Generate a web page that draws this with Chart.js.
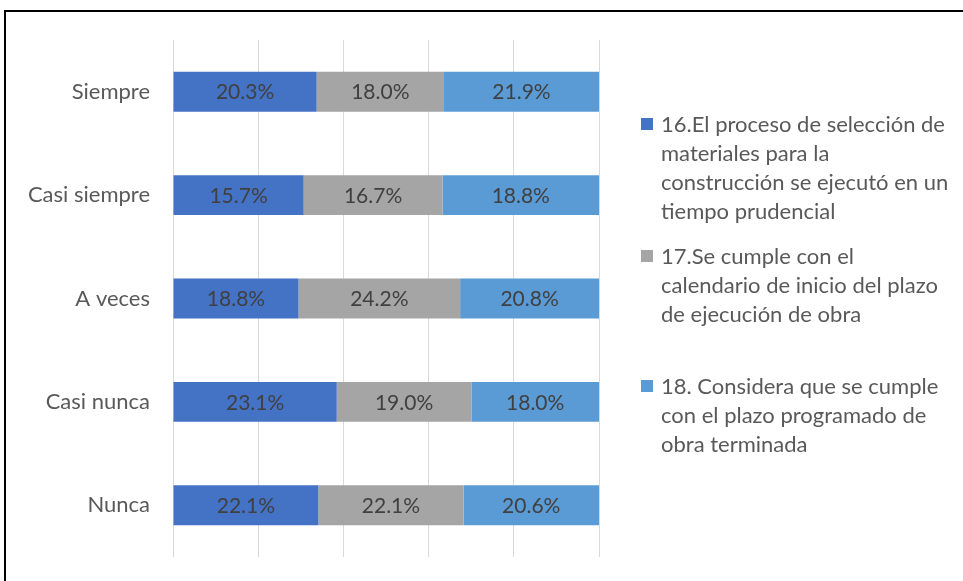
<!DOCTYPE html>
<html><head><meta charset="utf-8">
<script src="https://cdn.jsdelivr.net/npm/chart.js@4"></script>
<style>
html,body{margin:0;padding:0;background:#fff;}
#wrap{position:relative;width:963px;height:581px;}
#frame{position:absolute;left:4px;top:10px;width:980px;height:600px;border:2px solid #000;box-sizing:border-box;pointer-events:none;}
canvas{position:absolute;left:0;top:0;}
</style></head>
<body>
<div id="wrap"><canvas id="c" width="963" height="581"></canvas><div id="frame"></div></div>
<script>
const categories = ["Siempre", "Casi siempre", "A veces", "Casi nunca", "Nunca"];
const s16 = [20.3, 15.7, 18.8, 23.1, 22.1];
const s17 = [18.0, 16.7, 24.2, 19.0, 22.1];
const s18 = [21.9, 18.8, 20.8, 18.0, 20.6];
const seriesNames = [
  "16.El proceso de selección de materiales para la construcción se ejecutó en un tiempo prudencial",
  "17.Se cumple con el calendario de inicio del plazo de ejecución de obra",
  "18. Considera que se cumple con el plazo programado de obra terminada"
];
const legendLines = [
  ["16.El proceso de selección de", "materiales para la", "construcción se ejecutó en un", "tiempo prudencial"],
  ["17.Se cumple con el", "calendario de inicio del plazo", "de ejecución de obra"],
  ["18. Considera que se cumple", "con el plazo programado de", "obra terminada"]
];
const colors = ["#4472C4", "#A5A5A5", "#5B9BD5"];
const raw = [s16, s17, s18];
const totals = categories.map((_, i) => raw.reduce((a, s) => a + s[i], 0));
const FONT = "Lato, 'Open Sans', sans-serif";

const datasets = raw.map((s, k) => ({
  label: seriesNames[k],
  data: s.map((v, i) => v / totals[i] * 100),
  rawValues: s,
  backgroundColor: colors[k],
  borderWidth: 0,
  barPercentage: 0.386,
  categoryPercentage: 1.0
}));

const labelPlugin = {
  id: 'labels',
  afterDatasetsDraw(chart) {
    const ctx = chart.ctx;
    ctx.save();
    ctx.font = "21px " + FONT;
    ctx.fillStyle = "#404040";
    ctx.textAlign = "center";
    ctx.textBaseline = "middle";
    chart.data.datasets.forEach((ds, di) => {
      chart.getDatasetMeta(di).data.forEach((bar, i) => {
        const cx = (bar.x + bar.base) / 2;
        ctx.fillText(ds.rawValues[i].toFixed(1) + "%", cx, bar.y + 1);
      });
    });
    ctx.restore();
  }
};

const legendPlugin = {
  id: 'customLegend',
  afterDraw(chart) {
    const ctx = chart.ctx;
    ctx.save();
    ctx.font = "22px " + FONT;
    ctx.textAlign = "left";
    ctx.textBaseline = "middle";
    const starts = [124, 256, 386];
    const lh = 29;
    chart.data.datasets.forEach((ds, di) => {
      const y0 = starts[di];
      ctx.fillStyle = ds.backgroundColor;
      ctx.fillRect(641, y0 - 6, 12, 12);
      ctx.fillStyle = "#595959";
      legendLines[di].forEach((line, j) => {
        ctx.fillText(line, 661, y0 + 1 + j * lh);
      });
    });
    ctx.restore();
  }
};

new Chart(document.getElementById('c'), {
  type: 'bar',
  data: { labels: categories, datasets },
  plugins: [labelPlugin, legendPlugin],
  options: {
    indexAxis: 'y',
    responsive: false,
    animation: false,
    layout: { padding: { left: 0, top: 40, right: 364, bottom: 24 } },
    plugins: { legend: { display: false }, tooltip: { enabled: false } },
    scales: {
      x: {
        stacked: true, min: 0, max: 100,
        ticks: { display: false, stepSize: 20 },
        grid: { color: "#d9d9d9", lineWidth: 1, drawTicks: false },
        border: { display: false },
        afterFit(s) { s.height = 0; }
      },
      y: {
        stacked: true,
        grid: { display: false, drawTicks: false },
        border: { display: false },
        ticks: { color: "#595959", font: { family: FONT, size: 22 }, padding: 23 },
        afterFit(s) { s.width = 173; s.paddingTop = 0; s.paddingBottom = 0; }
      }
    }
  }
});
</script>
</body></html>
